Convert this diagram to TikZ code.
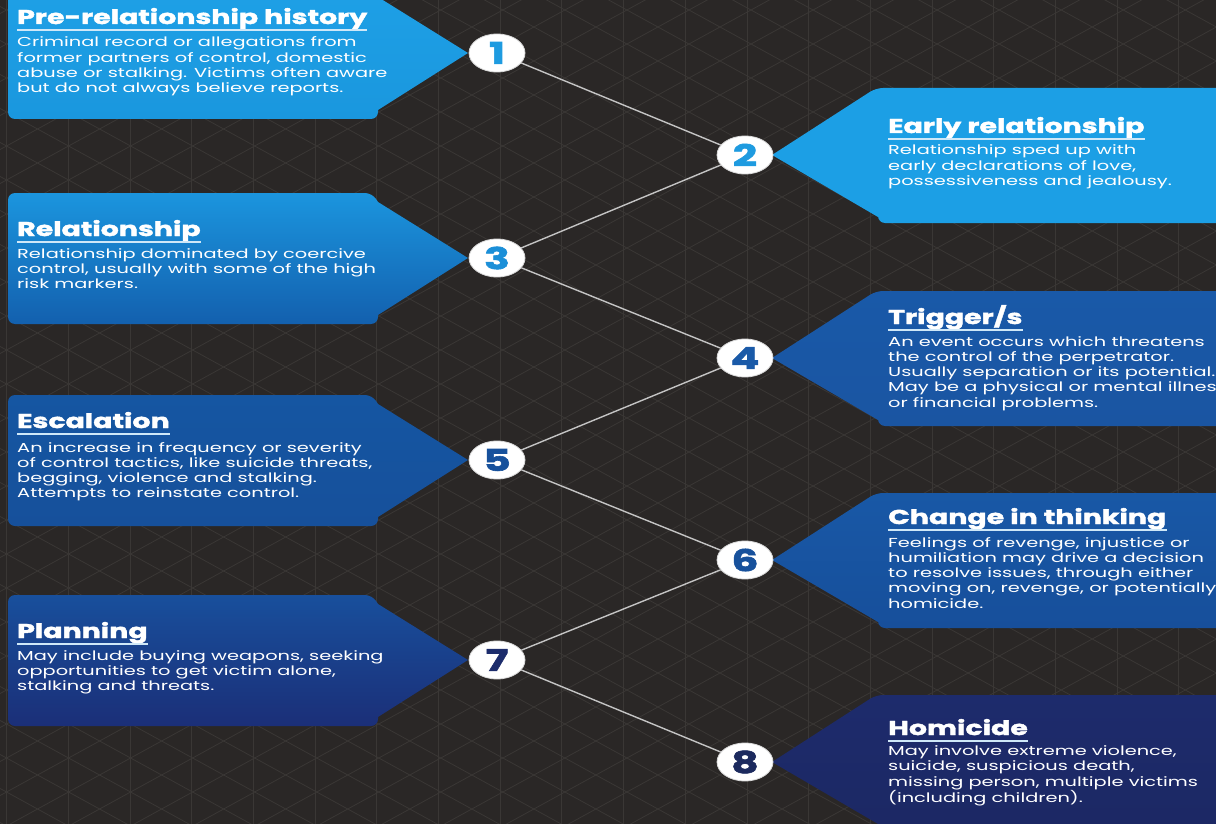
\documentclass[tikz,border=0pt]{standalone}
\usepackage{fontspec}
\setmainfont{Poppins}
\newfontfamily\bodyfont{Poppins}[FakeStretch=1.49]
\newfontfamily\titlefont{Poppins}[FakeStretch=1.42,BoldFeatures={FakeBold=2}]
\usetikzlibrary{shapes.geometric,calc}
\definecolor{bg}{HTML}{2A2726}
\definecolor{gridc}{HTML}{3A3735}
\definecolor{linec}{HTML}{C4C4C4}
\definecolor{ulc}{HTML}{CFE8F8}
\definecolor{bA}{HTML}{1EA0E6}
\definecolor{bAb}{HTML}{1A97DE}
\definecolor{bB}{HTML}{1C9FE5}
\definecolor{bC}{HTML}{1B95DE}
\definecolor{bCb}{HTML}{1360AE}
\definecolor{bD}{HTML}{1959A8}
\definecolor{bDb}{HTML}{1A55A2}
\definecolor{bE}{HTML}{1556A2}
\definecolor{bEb}{HTML}{16509B}
\definecolor{bF}{HTML}{1858A6}
\definecolor{bFb}{HTML}{174F9B}
\definecolor{bG}{HTML}{184F9C}
\definecolor{bGb}{HTML}{1B2F78}
\definecolor{bH}{HTML}{1D2B6C}
\definecolor{bHb}{HTML}{1C2864}
\definecolor{nA}{HTML}{1E9BE0}
\definecolor{nC}{HTML}{1B8FD8}
\definecolor{nD}{HTML}{1A5AA8}
\definecolor{nE}{HTML}{17519C}
\definecolor{nG}{HTML}{1C2C6C}
\definecolor{nH}{HTML}{1C2A5E}
\tikzset{
  gridline/.style={draw=gridc,line width=0.8},
  conn/.style={draw=linec,line width=1.4},
  numcirc/.style={ellipse,fill=white,draw=black!15,line width=0.8,minimum width=56,minimum height=38,inner sep=0,
    font=\titlefont\bfseries\fontsize{30}{30}\selectfont},
  ttl/.style={anchor=base west,inner sep=0,text=white,font=\titlefont\bfseries\fontsize{20}{20}\selectfont},
  body/.style={anchor=base west,inner sep=0,text=white,align=left,font=\bodyfont\fontsize{13}{15.3}\selectfont},
  uline/.style={draw=ulc,line width=1.8}
}
\newcommand\lbox[3]{\shade[top color=#2,bottom color=#3] (378,#1-56) -- (468,#1) -- (378,#1+57)
  {[rounded corners=7] -- (378,#1+66) -- (8,#1+66) -- (8,#1-65) -- (372,#1-65)} -- cycle;}
\newcommand\rbox[3]{\shade[top color=#2,bottom color=#3] (772,#1) {[rounded corners=7] -- (876,#1-67) -- (1240,#1-67) -- (1240,#1+68) -- (878,#1+68)} -- (878,#1+62) -- cycle;}
\newcommand\ttlline[1]{\draw[uline] ($(#1.base west)+(0,6)$) -- ($(#1.base east)+(0,6)$);}
\begin{document}
\begin{tikzpicture}[x=1pt,y=-1pt]
\useasboundingbox (0,0) rectangle (1216,824);
\fill[bg] (0,0) rectangle (1216,824);
\begin{scope}
\clip (0,0) rectangle (1216,824);
\foreach \k in {0,...,19} \draw[gridline] ({6.5+61.7*\k},0) -- ++(0,824);
\foreach \j in {-21,...,25} \draw[gridline] (0,{10+34*\j-3.57}) -- (1216,{10+34*\j-3.57+666.4});
\foreach \j in {-1,...,45} \draw[gridline] (0,{10+34*\j+3.57}) -- (1216,{10+34*\j+3.57-666.4});
% boxes
\lbox{53}{bA}{bAb}
\rbox{155}{bB}{bB}
\lbox{258}{bC}{bCb}
\rbox{358}{bD}{bDb}
\lbox{460}{bE}{bEb}
\rbox{560}{bF}{bFb}
\lbox{660}{bG}{bGb}
\rbox{762}{bH}{bHb}
% circles
\node[numcirc,text=nA] (c1) at (497,53) {1};
\node[numcirc,text=nA] (c2) at (745,155) {2};
\node[numcirc,text=nC] (c3) at (497,258) {3};
\node[numcirc,text=nD] (c4) at (745,358) {4};
\node[numcirc,text=nE] (c5) at (497,460) {5};
\node[numcirc,text=nE] (c6) at (745,560) {6};
\node[numcirc,text=nG] (c7) at (497,660) {7};
\node[numcirc,text=nH] (c8) at (745,762) {8};
\draw[conn] (c1) -- (c2);
\draw[conn] (c2) -- (c3);
\draw[conn] (c3) -- (c4);
\draw[conn] (c4) -- (c5);
\draw[conn] (c5) -- (c6);
\draw[conn] (c6) -- (c7);
\draw[conn] (c7) -- (c8);
% texts (body nodes anchored at the baseline of their last line)
\node[ttl] (t1) at (17,24) {Pre-relationship history}; \ttlline{t1}
\node[body] (d1) at (17,92.9) {Criminal record or allegations from\\former partners of control, domestic\\abuse or stalking. Victims often aware\\but do not always believe reports.};
\node[ttl] (t2) at (888,133) {Early relationship}; \ttlline{t2}
\node[body] (d2) at (888,185.6) {Relationship sped up with\\early declarations of love,\\possessiveness and jealousy.};
\node[ttl] (t3) at (17,236) {Relationship}; \ttlline{t3}
\node[body] (d3) at (17,288.6) {Relationship dominated by coercive\\control, usually with some of the high\\risk markers.};
\node[ttl] (t4) at (888,324) {Trigger/s}; \ttlline{t4}
\node[body] (d4) at (888,407.2) {An event occurs which threatens\\the control of the perpetrator.\\Usually separation or its potential.\\May be a physical or mental illness\\or financial problems.};
\node[ttl] (t5) at (17,428) {Escalation}; \ttlline{t5}
\node[body] (d5) at (17,497.9) {An increase in frequency or severity\\of control tactics, like suicide threats,\\begging, violence and stalking.\\Attempts to reinstate control.};
\node[ttl] (t6) at (888,524) {Change in thinking}; \ttlline{t6}
\node[body] (d6) at (888,608.2) {Feelings of revenge, injustice or\\humiliation may drive a decision\\to resolve issues, through either\\moving on, revenge, or potentially\\homicide.};
\node[ttl] (t7) at (17,638) {Planning}; \ttlline{t7}
\node[body] (d7) at (17,690.6) {May include buying weapons, seeking\\opportunities to get victim alone,\\stalking and threats.};
\node[ttl] (t8) at (888,735) {Homicide}; \ttlline{t8}
\node[body] (d8) at (888,802.9) {May involve extreme violence,\\suicide, suspicious death,\\missing person, multiple victims\\(including children).};
\end{scope}
\end{tikzpicture}
\end{document}
